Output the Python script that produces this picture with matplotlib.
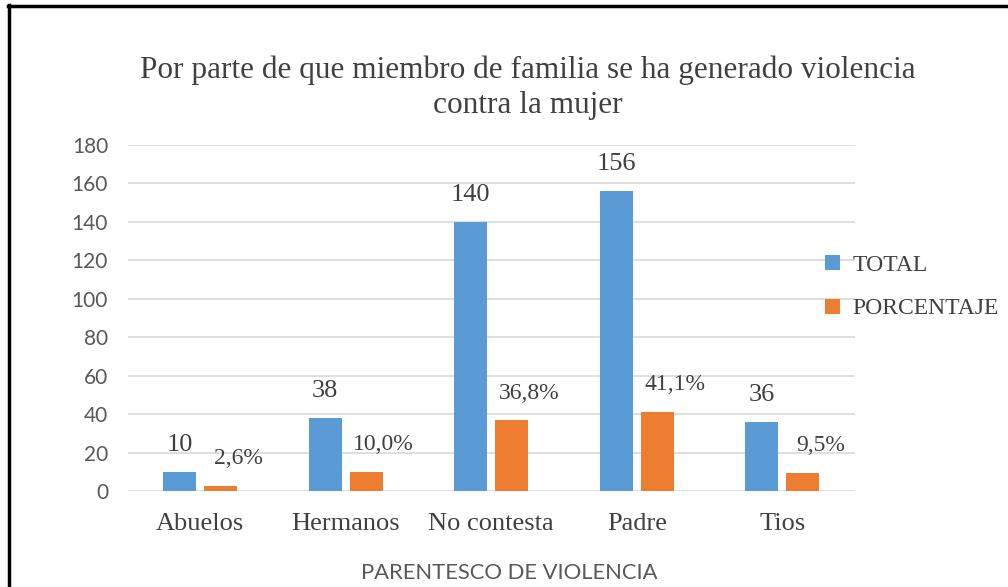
import matplotlib
matplotlib.use("Agg")
import matplotlib.pyplot as plt
from matplotlib.lines import Line2D
import numpy as np

categories = ["Abuelos", "Hermanos", "No contesta", "Padre", "Tios"]
total = [10, 38, 140, 156, 36]
porcentaje = [2.6, 10.0, 36.8, 41.1, 9.5]
pct_labels = ["2,6%", "10,0%", "36,8%", "41,1%", "9,5%"]
yticks = [0, 20, 40, 60, 80, 100, 120, 140, 160, 180]

BLUE = "#5B9BD5"
ORANGE = "#ED7D31"
TXT = "#404040"
GRAY = "#595959"
SERIF = "Liberation Serif"
SANS = "Lato"

fig = plt.figure(figsize=(10.08, 5.87), dpi=100)
ax = fig.add_axes([0.1265, 0.1635, 0.7218, 0.5894])

x = np.arange(len(categories))
w = 0.228
off = 0.141
ax.bar(x - off, total, w, color=BLUE, label="TOTAL", zorder=3)
ax.bar(x + off, porcentaje, w, color=ORANGE, label="PORCENTAJE", zorder=3)

for xi, v in zip(x, total):
    ax.annotate(str(v), (xi - off, v), xytext=(0, 19.5), textcoords="offset points",
                ha="center", va="center", fontsize=19, family=SERIF, color=TXT)
for xi, v, lab in zip(x, porcentaje, pct_labels):
    ax.annotate(lab, (xi + off, v), xytext=(12.5, 19.5), textcoords="offset points",
                ha="center", va="center", fontsize=17, family=SERIF, color=TXT)

ax.set_xlim(-0.5, 4.5)
ax.set_ylim(0, 180)
ax.set_yticks(yticks)
ax.set_yticklabels([str(t) for t in yticks], family=SANS, fontsize=15, color=GRAY)
ax.set_xticks(x)
ax.set_xticklabels(categories, family=SERIF, fontsize=19, color=TXT)
ax.tick_params(axis="both", length=0)
ax.tick_params(axis="y", pad=14)
ax.tick_params(axis="x", pad=16)
ax.grid(axis="y", color="#D9D9D9", linewidth=1.2, zorder=0)
for s in ax.spines.values():
    s.set_visible(False)

ax.set_xlabel("PARENTESCO DE VIOLENCIA", family=SANS, fontsize=15.8, color=GRAY)
ax.xaxis.set_label_coords(0.525, -0.207)

leg = ax.legend(loc="center left", bbox_to_anchor=(0.930, 0.589), frameon=False,
                prop={"family": SERIF, "size": 17}, handlelength=0.6, handleheight=0.6,
                labelspacing=0.95, handletextpad=0.55)
for t in leg.get_texts():
    t.set_color(TXT)

fig.text(0.524, 0.880, "Por parte de que miembro de familia se ha generado violencia",
         ha="center", va="center", family=SERIF, fontsize=22.5, color=TXT)
fig.text(0.524, 0.820, "contra la mujer",
         ha="center", va="center", family=SERIF, fontsize=22.5, color=TXT)

fig.add_artist(Line2D([0.0089, 0.0089], [0.0, 0.9915], transform=fig.transFigure, color="black", linewidth=2.5))
fig.add_artist(Line2D([0.0075, 1.0], [0.9895, 0.9895], transform=fig.transFigure, color="black", linewidth=2.5))

fig.savefig("out.png", dpi=100)
